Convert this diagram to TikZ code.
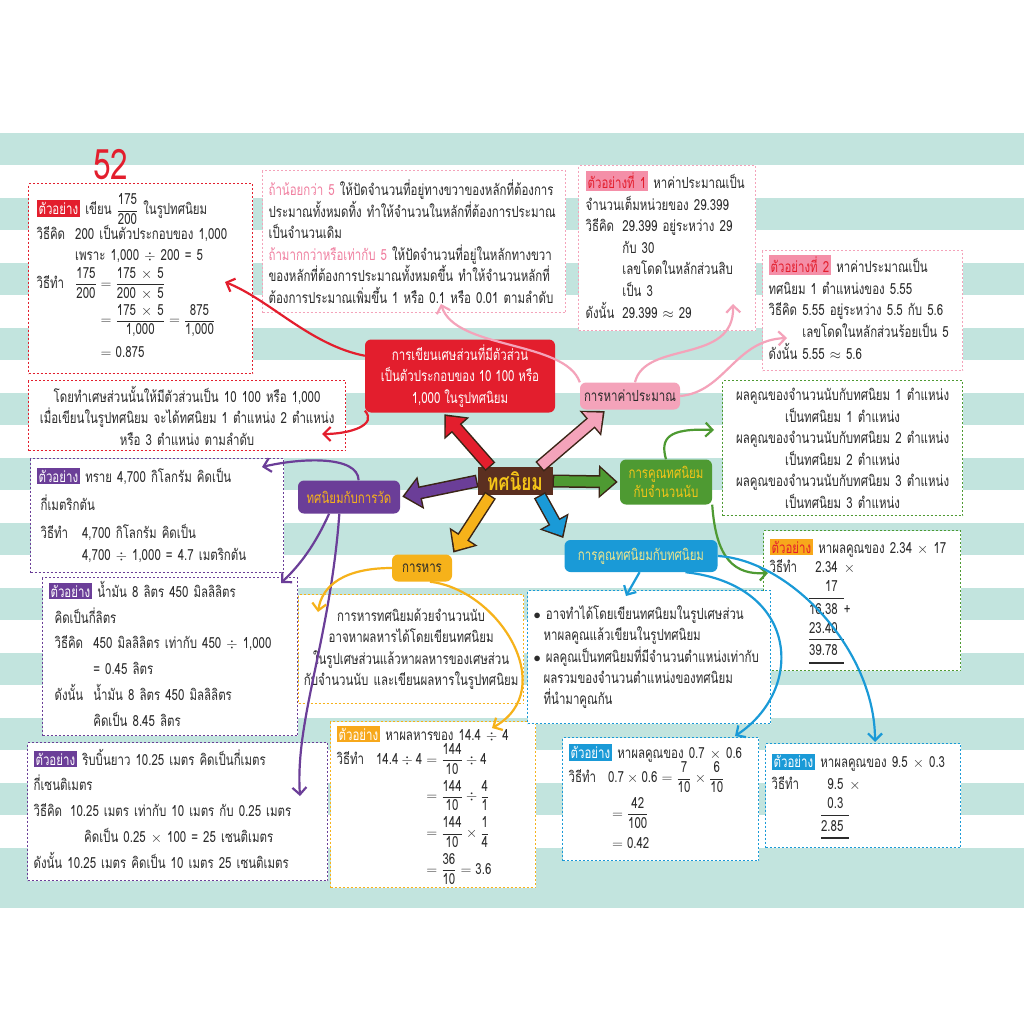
\documentclass[tikz,border=0pt]{standalone}
\usepackage{amsmath}
\usepackage{fontspec}
\setmainfont{Loma}[Script=Thai, FakeStretch=0.75]
\usepackage{xcolor}
\usetikzlibrary{arrows.meta,positioning,calc}
\definecolor{redc}{HTML}{E31E2D}
\definecolor{pinkc}{HTML}{F4A3BA}
\definecolor{pinktxt}{HTML}{F07FA0}
\definecolor{pinktag}{HTML}{F48FA8}
\definecolor{greenc}{HTML}{4E9A32}
\definecolor{purplec}{HTML}{6B3E98}
\definecolor{orangec}{HTML}{F6B21A}
\definecolor{bluec}{HTML}{1A9AD7}
\definecolor{hubc}{HTML}{5B2F20}
\definecolor{edgec}{HTML}{3A2416}
\definecolor{stripec}{HTML}{A9D9D0}
\definecolor{ink}{HTML}{2B2B2B}
\definecolor{yellowtxt}{HTML}{F5C518}
\definecolor{paleyellow}{HTML}{EFE68C}
\definecolor{tagorange}{HTML}{F7A81B}

\newcommand\fr[2]{\dfrac{\text{#1}}{\text{#2}}}
\newcommand\tagx[3][white]{\colorbox{#2}{\textcolor{#1}{#3}}}
\setlength\fboxsep{2pt}
\setlength\jot{5pt}

\begin{document}
\begin{tikzpicture}[x=1pt,y=-1pt,
    every node/.style={font=\fontsize{15.3}{21.5}\selectfont, text=ink},
    exbox/.style={draw=#1, fill=white, line width=1.2pt, dash pattern=on 2pt off 2pt,
                  anchor=north west, inner sep=0pt, align=left},
    topic/.style={fill=#1, rounded corners=6pt, inner sep=2pt, align=center},
    fat/.style={draw=#1, line width=10pt, -{Triangle[length=15pt,width=26pt]},
                shorten <=1.5pt, shorten >=4.5pt,
                preaction={draw=edgec, line width=13pt, -{Triangle[length=19pt,width=32pt]},
                           shorten <=0pt, shorten >=2pt}},
    link/.style={draw=#1, line width=2.2pt, -{Straight Barb[length=7pt,width=14pt]}},
  ]
  % background
  \fill[white] (0,0) rectangle (1024,1024);
  \useasboundingbox (0,0) rectangle (1024,1024);
  \foreach \y in {133,198,...,850}
    \fill[stripec, opacity=0.7] (0,\y) rectangle (1024,\y+32);
  \fill[stripec, opacity=0.7] (0,880) rectangle (1024,908);

  \node[text=redc, font=\fontsize{42}{42}\selectfont] (pagenum) at (111,165) {52};

  % example boxes
  \node[exbox=redc, minimum width=224pt, minimum height=190pt, text width=208pt] (exA) at (28,183) {%
    \begin{tabular}{@{}l@{\hspace{10pt}}l@{}}
      \multicolumn{2}{@{}l@{}}{\tagx{redc}{ตัวอย่าง} เขียน $\fr{175}{200}$ ในรูปทศนิยม}\\
      วิธีคิด & 200 เป็นตัวประกอบของ 1,000\\
              & เพราะ 1,000 $\div$ 200 = 5\\
      วิธีทำ & $\begin{aligned}[t]\fr{175}{200} &= \fr{175 $\times$ 5}{200 $\times$ 5}\\
                &= \fr{175 $\times$ 5}{1,000} = \fr{875}{1,000}\\ &= \text{0.875}\end{aligned}$
    \end{tabular}};
  \node[exbox=pinkc, minimum width=303pt, minimum height=142pt, text width=291pt] (exB) at (262,170) {%
    \textcolor{pinktxt}{ถ้าน้อยกว่า 5} ให้ปัดจำนวนที่อยู่ทางขวาของหลักที่ต้องการ\\
    ประมาณทั้งหมดทิ้ง ทำให้จำนวนในหลักที่ต้องการประมาณ\\
    เป็นจำนวนเดิม\\
    \textcolor{pinktxt}{ถ้ามากกว่าหรือเท่ากับ 5} ให้ปัดจำนวนที่อยู่ในหลักทางขวา\\
    ของหลักที่ต้องการประมาณทั้งหมดขึ้น ทำให้จำนวนหลักที่\\
    ต้องการประมาณเพิ่มขึ้น 1 หรือ 0.1 หรือ 0.01 ตามลำดับ};
  \node[exbox=pinkc, minimum width=177pt, minimum height=165pt, text width=163pt] (exC) at (578,165) {%
    \begin{tabular}{@{}l@{\hspace{8pt}}l@{}}
      \multicolumn{2}{@{}l@{}}{\tagx[redc]{pinktag}{ตัวอย่างที่ 1} หาค่าประมาณเป็น}\\
      \multicolumn{2}{@{}l@{}}{จำนวนเต็มหน่วยของ 29.399}\\
      วิธีคิด & 29.399 อยู่ระหว่าง 29\\
              & กับ 30\\
              & เลขโดดในหลักส่วนสิบ\\
              & เป็น 3\\
      ดังนั้น & 29.399 $\approx$ 29
    \end{tabular}};
  \node[exbox=pinkc, minimum width=200pt, minimum height=120pt, text width=188pt] (exD) at (762,250) {%
    \begin{tabular}{@{}l@{\hspace{5pt}}l@{}}
      \multicolumn{2}{@{}l@{}}{\tagx[redc]{pinktag}{ตัวอย่างที่ 2} หาค่าประมาณเป็น}\\
      \multicolumn{2}{@{}l@{}}{ทศนิยม 1 ตำแหน่งของ 5.55}\\
      วิธีคิด & 5.55 อยู่ระหว่าง 5.5 กับ 5.6\\
              & เลขโดดในหลักส่วนร้อยเป็น 5\\
      ดังนั้น & 5.55 $\approx$ 5.6
    \end{tabular}};
  \node[exbox=redc, minimum width=317pt, minimum height=70pt, text width=305pt, align=center] (exE) at (28,380) {%
    โดยทำเศษส่วนนั้นให้มีตัวส่วนเป็น 10 100 หรือ 1,000\\
    เมื่อเขียนในรูปทศนิยม จะได้ทศนิยม 1 ตำแหน่ง 2 ตำแหน่ง\\
    หรือ 3 ตำแหน่ง ตามลำดับ};
  \node[exbox=greenc, minimum width=240pt, minimum height=135pt, text width=230pt, align=center] (exI) at (722,380) {%
    ผลคูณของจำนวนนับกับทศนิยม 1 ตำแหน่ง\\ เป็นทศนิยม 1 ตำแหน่ง\\
    ผลคูณของจำนวนนับกับทศนิยม 2 ตำแหน่ง\\ เป็นทศนิยม 2 ตำแหน่ง\\
    ผลคูณของจำนวนนับกับทศนิยม 3 ตำแหน่ง\\ เป็นทศนิยม 3 ตำแหน่ง};
  \node[exbox=greenc, minimum width=197pt, minimum height=140pt, text width=185pt] (exN) at (763,530) {%
    \begin{tabular}{@{}l@{\hspace{12pt}}l@{}}
      \multicolumn{2}{@{}l@{}}{\tagx[redc]{tagorange}{ตัวอย่าง} หาผลคูณของ 2.34 $\times$ 17}\\[-2pt]
      วิธีทำ & \renewcommand\arraystretch{0.9}%
        \begin{tabular}[t]{@{}r@{\hspace{6pt}}l@{}}
          2.34 & $\times$\\ 17 & \\ \cline{1-1}\noalign{\vskip3pt}
          16.38 & +\\ 23.40 & \\ \cline{1-1}\noalign{\vskip3pt}
          39.78 & \\ \cline{1-1}\noalign{\vskip1.5pt}\cline{1-1}
        \end{tabular}
    \end{tabular}};
  \node[exbox=purplec, minimum width=253pt, minimum height=114pt, text width=241pt] (exF) at (30,458) {%
    \renewcommand\arraystretch{1.3}%
    \begin{tabular}{@{\hspace{4pt}}l@{\hspace{14pt}}l@{}}
      \multicolumn{2}{@{}l@{}}{\tagx{purplec}{ตัวอย่าง} ทราย 4,700 กิโลกรัม คิดเป็น}\\
      \multicolumn{2}{@{\hspace{4pt}}l@{}}{กี่เมตริกตัน}\\
      วิธีทำ & 4,700 กิโลกรัม คิดเป็น\\[-6pt]
             & 4,700 $\div$ 1,000 = 4.7 เมตริกตัน
    \end{tabular}};
  \node[exbox=purplec, minimum width=255pt, minimum height=158pt, text width=243pt] (exG) at (42,577) {%
    \renewcommand\arraystretch{1.2}%
    \begin{tabular}{@{\hspace{6pt}}l@{\hspace{10pt}}l@{}}
      \multicolumn{2}{@{}l@{}}{\tagx{purplec}{ตัวอย่าง} น้ำมัน 8 ลิตร 450 มิลลิลิตร}\\
      \multicolumn{2}{@{\hspace{6pt}}l@{}}{คิดเป็นกี่ลิตร}\\
      วิธีคิด & 450 มิลลิลิตร เท่ากับ 450 $\div$ 1,000\\
              & = 0.45 ลิตร\\
      ดังนั้น & น้ำมัน 8 ลิตร 450 มิลลิลิตร\\
              & คิดเป็น 8.45 ลิตร
    \end{tabular}};
  \node[exbox=purplec, minimum width=300pt, minimum height=138pt, text width=288pt] (exH) at (27,742) {%
    \renewcommand\arraystretch{1.2}%
    \begin{tabular}{@{}l@{\hspace{8pt}}l@{}}
      \multicolumn{2}{@{}l@{}}{\tagx{purplec}{ตัวอย่าง} ริบบิ้นยาว 10.25 เมตร คิดเป็นกี่เมตร}\\
      \multicolumn{2}{@{}l@{}}{กี่เซนติเมตร}\\
      วิธีคิด & 10.25 เมตร เท่ากับ 10 เมตร กับ 0.25 เมตร\\
              & \hspace{14pt}คิดเป็น 0.25 $\times$ 100 = 25 เซนติเมตร\\
      \multicolumn{2}{@{}l@{}}{ดังนั้น 10.25 เมตร คิดเป็น 10 เมตร 25 เซนติเมตร}
    \end{tabular}};
  \node[exbox=orangec, minimum width=225pt, minimum height=109pt, text width=215pt, align=center] (exJ) at (298,594) {%
    การหารทศนิยมด้วยจำนวนนับ\\ อาจหาผลหารได้โดยเขียนทศนิยม\\
    ในรูปเศษส่วนแล้วหาผลหารของเศษส่วน\\ กับจำนวนนับ และเขียนผลหารในรูปทศนิยม};
  \node[exbox=orangec, minimum width=205pt, minimum height=166pt, text width=193pt] (exK) at (330,721) {%
    \setlength\jot{6pt}%
    \begin{tabular}{@{}l@{\hspace{12pt}}l@{}}
      \multicolumn{2}{@{}l@{}}{\tagx{tagorange}{ตัวอย่าง} หาผลหารของ 14.4 $\div$ 4}\\[-3pt]
      วิธีทำ & $\begin{aligned}[t]\text{14.4}\div\text{4} &= \fr{144}{10}\div\text{4}\\
                &= \fr{144}{10}\div\fr{4}{1}\\ &= \fr{144}{10}\times\fr{1}{4}\\
                &= \fr{36}{10} = \text{3.6}\end{aligned}$
    \end{tabular}};
  \node[exbox=bluec, minimum width=243pt, minimum height=133pt, text width=231pt] (exL) at (527,590) {%
    $\bullet$\ อาจทำได้โดยเขียนทศนิยมในรูปเศษส่วน\\
    \hspace*{10pt}หาผลคูณแล้วเขียนในรูปทศนิยม\\
    $\bullet$\ ผลคูณเป็นทศนิยมที่มีจำนวนตำแหน่งเท่ากับ\\
    \hspace*{10pt}ผลรวมของจำนวนตำแหน่งของทศนิยม\\
    \hspace*{10pt}ที่นำมาคูณกัน};
  \node[exbox=bluec, minimum width=196pt, minimum height=123pt, text width=184pt] (exM) at (562,737) {%
    \setlength\jot{5pt}%
    \begin{tabular}{@{}l@{\hspace{12pt}}l@{}}
      \multicolumn{2}{@{}l@{}}{\tagx{bluec}{ตัวอย่าง} หาผลคูณของ 0.7 $\times$ 0.6}\\[-3pt]
      วิธีทำ & $\begin{aligned}[t]&\text{0.7}\times\text{0.6} = \fr{7}{10}\times\fr{6}{10}\\
                &= \fr{42}{100}\\ &= \text{0.42}\end{aligned}$
    \end{tabular}};
  \node[exbox=bluec, minimum width=195pt, minimum height=104pt, text width=183pt] (exP) at (765,743) {%
    \begin{tabular}{@{}l@{\hspace{22pt}}l@{}}
      \multicolumn{2}{@{}l@{}}{\tagx{bluec}{ตัวอย่าง} หาผลคูณของ 9.5 $\times$ 0.3}\\
      วิธีทำ & \renewcommand\arraystretch{0.9}%
        \begin{tabular}[t]{@{}r@{\hspace{6pt}}l@{}}
          9.5 & $\times$\\ 0.3 & \\ \cline{1-1}\noalign{\vskip3pt}
          2.85 & \\ \cline{1-1}\noalign{\vskip1.5pt}\cline{1-1}
        \end{tabular}
    \end{tabular}};

  % hub and topics
  \node[fill=hubc, text=yellowtxt, font=\fontsize{23}{23}\selectfont\bfseries,
        minimum width=75pt, minimum height=28pt, inner sep=0pt] (hub) at (515,481) {ทศนิยม};
  \node[topic=redc, text=white, minimum width=190pt, minimum height=73pt] (fracnode) at (460,376)
    {การเขียนเศษส่วนที่มีตัวส่วน\\เป็นตัวประกอบของ 10 100 หรือ\\1,000 ในรูปทศนิยม};
  \node[topic=pinkc, minimum width=100pt, minimum height=27pt] (approx) at (630,396) {การหาค่าประมาณ};
  \node[topic=greenc, text=yellowtxt, minimum width=92pt, minimum height=45pt,
        font=\fontsize{15.3}{19}\selectfont] (mulint) at (666,482) {การคูณทศนิยม\\กับจำนวนนับ};
  \node[topic=purplec, text=orangec, minimum width=102pt, minimum height=33pt] (measure) at (349,497) {ทศนิยมกับการวัด};
  \node[topic=orangec, minimum width=60pt, minimum height=27pt] (divide) at (422,568) {การหาร};
  \node[topic=bluec, text=paleyellow, minimum width=153pt, minimum height=32pt] (muldec) at (641,556) {การคูณทศนิยมกับทศนิยม};

  \draw[fat=redc] (hub.150) -- (fracnode.-115);
  \draw[fat=pinkc] (hub.30) -- (approx.-150);
  \draw[fat=greenc] (hub.east) -- (mulint.west);
  \draw[fat=purplec] (hub.west) -- (measure.east);
  \draw[fat=orangec] (hub.-150) -- (divide.north east);
  \draw[fat=bluec] (hub.-30) -- (muldec.north west);

  % connectors
  \coordinate (tipA) at (225,282);
  \coordinate (tipE) at (322,434);
  \coordinate (tipB) at (441,304);
  \coordinate (tipC) at (733,304);
  \coordinate (tipD) at (787,338);
  \coordinate (tipI) at (714,430);
  \coordinate (tipN) at (768,573);
  \coordinate (tipF) at (262,467);
  \coordinate (tipG) at (281,583);
  \coordinate (tipH) at (300,796);
  \coordinate (tipJ) at (318,612);
  \coordinate (tipK) at (492,728);
  \coordinate (tipL) at (626,596);
  \coordinate (tipM) at (735,736);
  \coordinate (tipP) at (875,742);
  \draw[link=redc] (fracnode.168) .. controls (310,345) and (270,300) .. (tipA);
  \draw[link=redc] (fracnode.-160) .. controls (378,425) and (350,434) .. (tipE);
  \draw[link=pinkc] (approx.north west) .. controls (565,340) and (455,350) .. (tipB);
  \draw[link=pinkc] (approx.70) .. controls (645,340) and (735,365) .. (tipC);
  \draw[link=pinkc] (approx.east) .. controls (725,392) and (735,340) .. (tipD);
  \draw[link=greenc] (mulint.north) .. controls (660,438) and (668,428) .. (tipI);
  \draw[link=greenc] (mulint.south east) .. controls (716,560) and (735,575) .. (tipN);
  \draw[link=purplec] (measure.60) .. controls (358,455) and (300,458) .. (tipF);
  \draw[link=purplec] (measure.-140) .. controls (315,545) and (300,565) .. (tipG);
  \draw[link=purplec] (measure.-120) .. controls (330,640) and (295,720) .. (tipH);
  \draw[link=orangec] (divide.west) .. controls (345,568) and (322,585) .. (tipJ);
  \draw[link=orangec] (divide.-60) .. controls (500,590) and (560,690) .. (tipK);
  \draw[link=bluec] (muldec.-95) -- (tipL);
  \draw[link=bluec] (muldec.-20) .. controls (800,585) and (805,690) .. (tipM);
  \draw[link=bluec] (muldec.east) .. controls (790,560) and (875,650) .. (tipP);
\end{tikzpicture}
\end{document}
